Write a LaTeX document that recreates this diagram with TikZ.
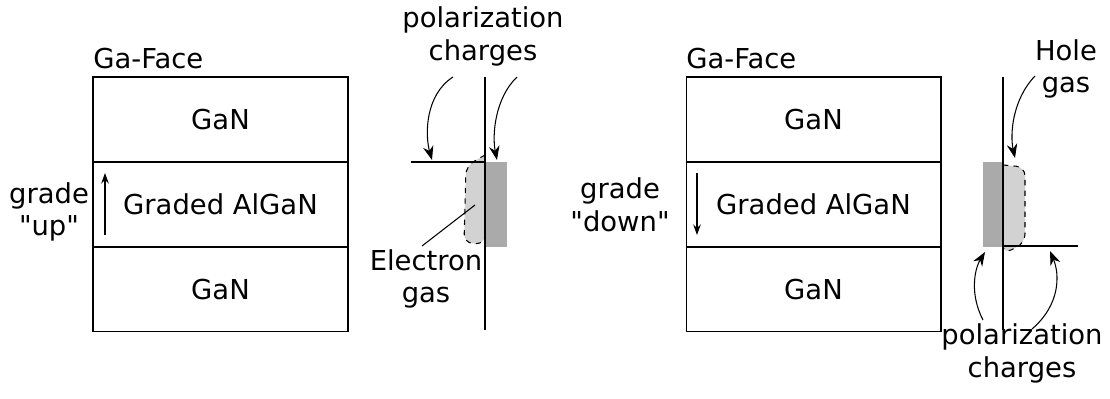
\documentclass[tikz,border=0pt]{standalone}
\usepackage{fontspec}
\setmainfont{DejaVu Sans}[Ligatures=TeXOff]
\usetikzlibrary{arrows.meta,positioning}
\definecolor{GasLight}{RGB}{210,210,210}
\definecolor{ChargeDark}{RGB}{170,170,170}
\tikzset{
  layerbox/.style={draw, line width=0.6pt, minimum width=5.1cm, minimum height=1.7cm,
    inner sep=0pt, outer sep=0pt, font=\fontsize{15.6}{18.7}\selectfont},
  sidelbl/.style={align=center, inner sep=0pt, font=\fontsize{15.6}{18.7}\selectfont},
  chargearr/.style={-{Stealth[length=2.8mm, width=2.1mm]}, line width=0.6pt},
  gradearr/.style={-{Stealth[length=2.1mm, width=1.5mm]}, line width=0.6pt},
  gasedge/.style={draw, dashed, line width=0.6pt, fill=GasLight},
  axisline/.style={line width=0.7pt},
}
\begin{document}
\begin{tikzpicture}[x=0.02cm, y=-0.02cm]
\useasboundingbox (0,0) rectangle (1110,399);
% ---- grade up ----
\node[layerbox] (ganTopL) at (220.5,119.5) {GaN};
\node[layerbox, below=0pt of ganTopL] (algaL) {Graded AlGaN};
\node[layerbox, below=0pt of algaL] (ganBotL) {GaN};
\draw[line width=1.2pt] (ganTopL.south west) -- (ganTopL.south east);
\node[sidelbl, anchor=base west] (faceL) at (93,69) {Ga-Face};
\node[sidelbl] (gradeL) at (49,212) {grade\\"up"};
\coordinate (upS) at (105,235);
\coordinate (upE) at (105,173);
\draw[gradearr] (upS) -- (upE);
% charges and electron gas
\fill[ChargeDark] (485,162) rectangle (507,247);
\path[gasedge] (485,155) [rounded corners=5pt] -- (466,166) -- (464,243) -- (485,244) [sharp corners] -- cycle;
\coordinate (axTopL) at (485,77);
\coordinate (axBotL) at (485,330);
\coordinate (ifaceL) at (411,162);
\coordinate (ifaceLe) at (485,162);
\draw[axisline] (axTopL) -- (axBotL);
\draw[axisline] (ifaceL) -- (ifaceLe);
\node[sidelbl] (polT) at (483,36.5) {polarization\\charges};
\coordinate (polTa) at (453,77);
\coordinate (polTb) at (517,77);
\coordinate (tipTa) at (432,160);
\coordinate (tipTb) at (497,160);
\draw[chargearr] (polTa) .. controls (425,95) and (425,135) .. (tipTa);
\draw[chargearr] (polTb) .. controls (495,98) and (492,135) .. (tipTb);
\node[sidelbl] (elec) at (426,279) {Electron\\gas};
\coordinate (elecS) at (422,246);
\coordinate (elecE) at (475,205);
\draw[line width=0.6pt] (elecS) -- (elecE);
% ---- grade down ----
\node[layerbox] (ganTopR) at (813.5,119.5) {GaN};
\node[layerbox, below=0pt of ganTopR] (algaR) {Graded AlGaN};
\node[layerbox, below=0pt of algaR] (ganBotR) {GaN};
\draw[line width=1.2pt] (ganTopR.south west) -- (ganTopR.south east);
\node[sidelbl, anchor=base west] (faceR) at (686,69) {Ga-Face};
\node[sidelbl] (gradeR) at (620,205) {grade\\"down"};
\coordinate (dnS) at (697,173);
\coordinate (dnE) at (697,235);
\draw[gradearr] (dnS) -- (dnE);
% charges and hole gas
\fill[ChargeDark] (983,162) rectangle (1003,247);
\path[gasedge] (1003,165) [rounded corners=5pt] -- (1025,167) -- (1025,243) -- (1003,254) [sharp corners] -- cycle;
\coordinate (axTopR) at (1003,77);
\coordinate (axBotR) at (1003,330);
\coordinate (ifaceR) at (1003,246);
\coordinate (ifaceRe) at (1078,246);
\draw[axisline] (axTopR) -- (axBotR);
\draw[axisline] (ifaceR) -- (ifaceRe);
\node[sidelbl] (hole) at (1066,69) {Hole\\gas};
\coordinate (holeS) at (1035,76);
\coordinate (holeE) at (1015,158);
\draw[chargearr] (holeS) .. controls (1012,100) and (1010,135) .. (holeE);
\node[sidelbl] (polB) at (1022,353.5) {polarization\\charges};
\coordinate (polBa) at (983,320);
\coordinate (polBb) at (1032,329);
\coordinate (tipBa) at (985,252);
\coordinate (tipBb) at (1050,251);
\draw[chargearr] (polBa) .. controls (970,295) and (974,270) .. (tipBa);
\draw[chargearr] (polBb) .. controls (1060,305) and (1060,275) .. (tipBb);
\end{tikzpicture}
\end{document}
